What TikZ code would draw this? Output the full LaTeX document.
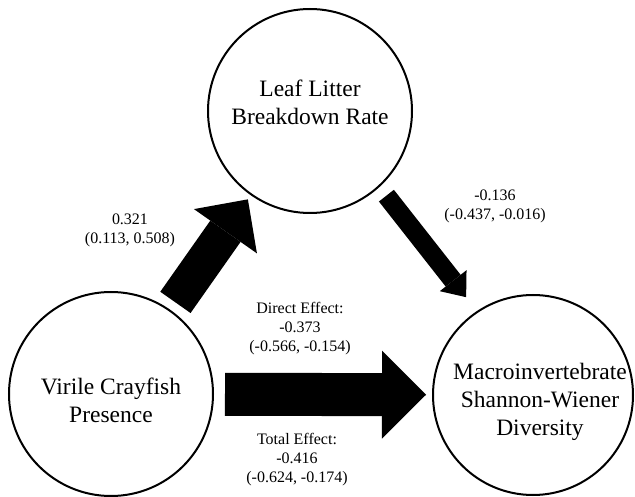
\documentclass[tikz,border=0pt]{standalone}
\usepackage{fontspec}
\setmainfont{Liberation Serif}
\newfontfamily\timesfont{Liberation Serif}
\usetikzlibrary{arrows.meta}

\begin{document}
\begin{tikzpicture}[x=1pt,y=-1pt,
		bubble/.style={draw,circle,line width=2pt,inner sep=0pt,minimum size=#1},
		bubbletext/.style={align=center,font=\timesfont\fontsize{23.5}{28}\selectfont},
		effect/.style={align=center,font=\timesfont\fontsize{16}{19}\selectfont},
		pathway/.style args={#1/#2/#3}{line width=#1,
			-{Triangle[width=#2,length=#3 0 0,line width=0pt]}}]
		\useasboundingbox (0,0) rectangle (635,497);
		% the three variables
		\node[bubble=204pt] (llb) at (310,111) {};
		\node[bubble=204pt] (vcp) at (111,394) {};
		\node[bubble=200pt] (msw) at (533,395) {};
		\node[bubbletext] (llbtext) at (310,102) {Leaf Litter\\Breakdown Rate};
		\node[bubbletext] (vcptext) at (111,400) {Virile Crayfish\\Presence};
		\node[bubbletext] (mswtext) at (540,402) {Macroinvertebrate\\Shannon-Wiener\\Diversity};
		% paths
		\draw[pathway=37pt/77pt/39pt,shorten <=9pt,shorten >=5pt] (vcp) -- (llb);
		\draw[pathway=19pt/34pt/21pt,shorten <=11pt,shorten >=17pt,
			transform canvas={xshift=6pt,yshift=5pt}] (llb) -- (msw);
		\draw[pathway=43pt/88pt/44pt,shorten <=11pt,shorten >=6pt] (vcp) -- (msw);
		% effect sizes
		\node[effect] (a) at (130,230) {0.321\\(0.113, 0.508)};
		\node[effect] (b) at (495,206) {-0.136\\(-0.437, -0.016)};
		\node[effect] (c) at (300,329) {Direct Effect:\\-0.373\\(-0.566, -0.154)};
		\node[effect] (ab) at (297,460) {Total Effect:\\-0.416\\(-0.624, -0.174)};
\end{tikzpicture}
\end{document}
